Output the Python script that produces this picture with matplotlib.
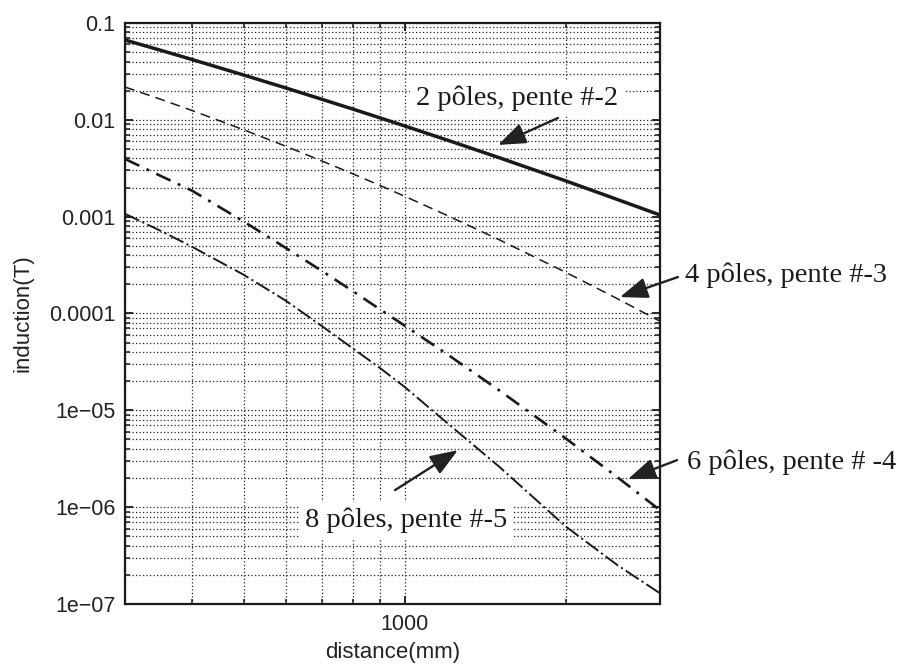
import matplotlib
matplotlib.use('Agg')
import matplotlib.pyplot as plt
from matplotlib.ticker import FixedLocator, FixedFormatter, NullFormatter

# distance (mm) and induction (T)
distance = [300, 350, 400, 500, 600, 700, 800, 900, 1000, 1200, 1500, 2000, 2500, 3000]
b_2poles = [0.0667, 0.0522, 0.0420, 0.0290, 0.0213, 0.0163, 0.0129, 0.01045,
            0.00864, 0.00618, 0.00407, 0.00234, 0.00150, 0.00104]
b_4poles = [0.0218, 0.01627, 0.01249, 0.00789, 0.00532, 0.00376, 0.002766, 0.002094,
            0.001622, 0.00103, 0.000579, 0.000266, 0.0001417, 8.32e-5]
b_6poles = [0.00394, 0.00263, 0.00186, 0.000891, 0.000473, 0.000275, 0.000170, 0.0001098,
            7.48e-5, 3.80e-5, 1.615e-5, 5.12e-6, 2.03e-6, 9.31e-7]
b_8poles = [0.00107, 0.000712, 0.00049, 0.000251, 0.000135, 7.41e-5, 4.35e-5, 2.72e-5,
            1.74e-5, 7.41e-6, 2.63e-6, 6.31e-7, 2.51e-7, 1.29e-7]

y_ticks = [1e-7, 1e-6, 1e-5, 1e-4, 1e-3, 1e-2, 1e-1]
y_ticklabels = ['1e\u221207', '1e\u221206', '1e\u221205', '0.0001', '0.001', '0.01', '0.1']
x_ticks = [1000]
x_ticklabels = ['1000']

labels = ['2 pôles, pente #-2', '4 pôles, pente #-3',
          '6 pôles, pente # -4', '8 pôles, pente #-5']

plt.rcParams['font.family'] = ['Liberation Sans', 'DejaVu Sans']
ink = '#1a1a1a'

fig = plt.figure(figsize=(9.06, 6.68), dpi=100)
ax = fig.add_axes([0.138, 0.0958, 0.5905, 0.8698])

ax.plot(distance, b_2poles, color=ink, lw=2.5, solid_capstyle='butt')
ax.plot(distance, b_4poles, color=ink, lw=1.1, linestyle=(0, (6.5, 4)))
ax.plot(distance, b_6poles, color=ink, lw=1.9, linestyle=(0, (6, 3, 1.1, 3)))
ax.plot(distance, b_8poles, color=ink, lw=1.4, linestyle=(0, (8, 1.8, 1.1, 1.8)))

ax.set_xscale('log')
ax.set_yscale('log')
ax.set_xlim(300, 3000)
ax.set_ylim(1e-7, 0.1)

ax.yaxis.set_major_locator(FixedLocator(y_ticks))
ax.yaxis.set_major_formatter(FixedFormatter(y_ticklabels))
ax.yaxis.set_minor_formatter(NullFormatter())
ax.xaxis.set_major_locator(FixedLocator(x_ticks))
ax.xaxis.set_major_formatter(FixedFormatter(x_ticklabels))
ax.xaxis.set_minor_formatter(NullFormatter())

ax.grid(True, which='both', linestyle=(0, (1, 1.8)), color='#222222', lw=0.9)
ax.tick_params(which='both', direction='in', top=True, right=True,
               colors=ink, labelcolor='#222222', labelsize=15.5, pad=7)
ax.tick_params(which='major', length=6, width=1.3)
ax.tick_params(which='minor', length=3.5, width=1.1)
for sp in ax.spines.values():
    sp.set_linewidth(1.6)
    sp.set_color(ink)

ax.set_ylabel('induction(T)', fontsize=16, color='#222222', labelpad=11)
ax.set_xlabel('distance(mm)', fontsize=16, color='#222222', labelpad=5)

# annotations
serif = ['Liberation Serif', 'DejaVu Serif']
arrow = dict(arrowstyle='-|>,head_length=0.85,head_width=0.32', color='#222222',
             lw=1.7, mutation_scale=20, shrinkA=0, shrinkB=0)
white = dict(facecolor='white', edgecolor='none', pad=4)

ax.text(1621, 0.0168, labels[0], family=serif, fontsize=20.5, color=ink,
        ha='center', va='center', bbox=white, zorder=3)
ax.annotate('', xy=(1494, 0.0055), xytext=(1934, 0.01045), arrowprops=arrow,
            annotation_clip=False, zorder=4)

ax.text(3341, 0.000249, labels[1], family=serif, fontsize=20.5, color=ink,
        ha='left', va='center', clip_on=False)
ax.annotate('', xy=(2525, 0.0001476), xytext=(3241, 0.000238), arrowprops=arrow,
            annotation_clip=False)

ax.text(3370, 2.92e-6, labels[2], family=serif, fontsize=20.5, color=ink,
        ha='left', va='center', clip_on=False)
ax.annotate('', xy=(2614, 1.95e-6), xytext=(3228, 3.06e-6), arrowprops=arrow,
            annotation_clip=False)

ax.text(651, 7.34e-7, labels[3], family=serif, fontsize=20.5, color=ink,
        ha='left', va='center', bbox=white, zorder=3)
ax.annotate('', xy=(1257, 3.88e-6), xytext=(959, 1.5e-6), arrowprops=arrow,
            annotation_clip=False, zorder=4)

fig.savefig('out.png', dpi=100)
